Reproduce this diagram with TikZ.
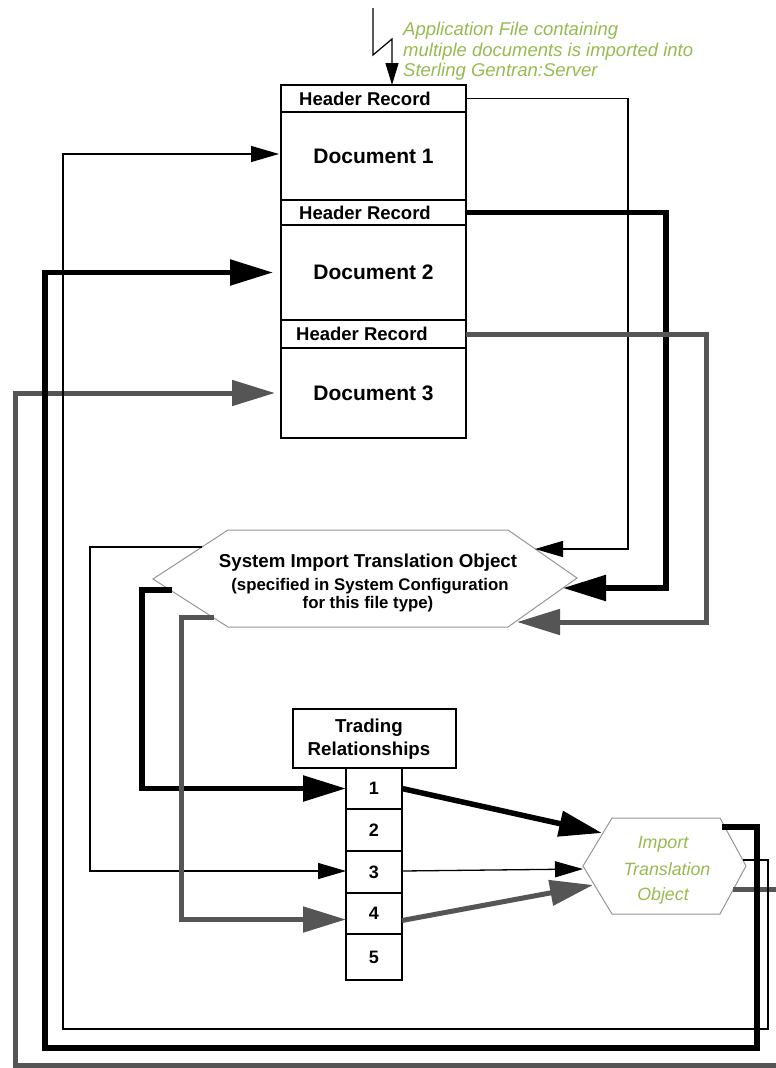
\documentclass[tikz,border=0pt]{standalone}
\usepackage{fontspec}
\setmainfont{Liberation Sans}
\usetikzlibrary{arrows.meta}
\definecolor{gr}{RGB}{85,85,85}
\definecolor{grn}{RGB}{150,187,80}
\definecolor{hexc}{RGB}{150,150,150}
\begin{document}
\begin{tikzpicture}[x=1pt,y=-1pt,
  cell/.style={draw=black, line width=1.2pt, inner sep=0pt, outer sep=0pt, anchor=north west, minimum width=185pt},
  hexshape/.style={draw=hexc, line width=1pt, fill=white},
  hdrtext/.style={font=\fontsize{18.5}{22}\selectfont\bfseries, inner sep=0pt},
  doctext/.style={font=\fontsize{21}{24}\selectfont\bfseries},
  titletext/.style={font=\fontsize{18.7}{22}\selectfont\bfseries, inner sep=0pt, anchor=base},
  subtext/.style={font=\fontsize{16.8}{20}\selectfont\bfseries, inner sep=0pt, anchor=base},
  numtext/.style={font=\fontsize{18}{20}\selectfont\bfseries},
  itotext/.style={font=\fontsize{17.8}{20}\selectfont\itshape, text=grn, inner sep=0pt, anchor=base},
  notetext/.style={font=\fontsize{18.5}{21}\selectfont\itshape, text=grn, inner sep=0pt, anchor=base west},
  thinarrow/.style={line width=1.3pt, -{Triangle[length=28pt,width=16pt]}},
  blackarrow/.style={line width=5.5pt, -{Triangle[length=43pt,width=25pt]}},
  grayarrow/.style={line width=5pt, color=gr, -{Triangle[length=43pt,width=25pt]}},
]
\useasboundingbox (0,0) rectangle (776,1068);

% ---------- document stack ----------
\node[cell, minimum height=27pt] (h1) at (281,85) {};
\node[cell, minimum height=88pt, doctext] (d1) at (281,112) {Document 1};
\node[cell, minimum height=25pt] (h2) at (281,200) {};
\node[cell, minimum height=95pt, doctext] (d2) at (281,225) {Document 2};
\node[cell, minimum height=28pt] (h3) at (281,320) {};
\node[cell, minimum height=90pt, doctext] (d3) at (281,348) {Document 3};
\node[hdrtext] (h1t) at (365,98.5) {Header Record};
\node[hdrtext] (h2t) at (365,212.5) {Header Record};
\node[hdrtext] (h3t) at (362,334) {Header Record};

% ---------- incoming file ----------
\coordinate (src) at (373,8);
\draw[line width=1.2pt, -{Triangle[length=22pt,width=13pt]}]
  (src) -- ++(0,47) -- ++(19,-16) -- ([xshift=18.5pt]h1.north);
\node[notetext] (n1) at (403,35) {Application File containing};
\node[notetext] (n2) at (403,56) {multiple documents is imported into};
\node[notetext] (n3) at (403,76) {Sterling Gentran:Server};

% ---------- system import translation object ----------
\coordinate (sL) at (153,579);
\coordinate (sTL) at (228,530);
\coordinate (sTR) at (508,530);
\coordinate (sR) at (577,578);
\coordinate (sBR) at (508,627);
\coordinate (sBL) at (228,627);
\draw[hexshape] (sL) -- (sTL) -- (sTR) -- (sR) -- (sBR) -- (sBL) -- cycle;
\node[titletext] (s1) at (368,567) {System Import Translation Object};
\node[subtext] (s2) at (370,590) {(specified in System Configuration};
\node[subtext] (s3) at (368,608) {for this file type)};
\coordinate (sIn1) at (535,549);
\coordinate (sIn2) at (563,588);
\coordinate (sIn3) at (517,622);
\coordinate (sOut1) at (202,547);
\coordinate (sOut2) at (172,590);
\coordinate (sOut3) at (214,617);

% ---------- trading relationships ----------
\node[cell, minimum width=163pt, minimum height=59pt] (tr) at (293,709) {};
\node[titletext] (trt1) at (369,732) {Trading};
\node[titletext] (trt2) at (369,755) {Relationships};
\node[cell, minimum width=56pt, minimum height=41pt, numtext] (t1) at (346,768) {1};
\node[cell, minimum width=56pt, minimum height=42pt, numtext] (t2) at (346,809) {2};
\node[cell, minimum width=56pt, minimum height=42pt, numtext] (t3) at (346,851) {3};
\node[cell, minimum width=56pt, minimum height=41pt, numtext] (t4) at (346,893) {4};
\node[cell, minimum width=56pt, minimum height=46pt, numtext] (t5) at (346,934) {5};

% ---------- import translation object ----------
\coordinate (iL) at (583,866);
\coordinate (iTL) at (612,818);
\coordinate (iTR) at (720,818);
\coordinate (iR) at (746,866);
\coordinate (iBR) at (720,914);
\coordinate (iBL) at (612,914);
\draw[hexshape] (iL) -- (iTL) -- (iTR) -- (iR) -- (iBR) -- (iBL) -- cycle;
\node[itotext] (i1) at (663,848) {Import};
\node[itotext] (i2) at (667,875) {Translation};
\node[itotext] (i3) at (663,900) {Object};
\coordinate (iIn1) at (602,833);
\coordinate (iIn2) at (583,869);
\coordinate (iIn3) at (593,885);
\coordinate (iOut1) at (722,827);
\coordinate (iOut2) at (743,860);
\coordinate (iOut3) at (733,889);

% ---------- connectors: headers to system object ----------
\draw[thinarrow] (h1.east) -- ++(162,0) |- (sIn1);
\draw[blackarrow] (h2.east) -- ++(200,0) |- (sIn2);
\draw[grayarrow] (h3.east) -- ++(240,0) |- (sIn3);

% ---------- system object to trading relationships ----------
\draw[thinarrow] (sOut1) -- ++(-112,0) |- ([yshift=1pt]t3.west);
\draw[blackarrow] (sOut2) -- ++(-30,0) |- (t1.west);
\draw[grayarrow] (sOut3) -- ++(-33,0) |- ([yshift=-6pt]t4.west);

% ---------- trading relationships to import object ----------
\draw[blackarrow] (t1.east) -- (iIn1);
\draw[thinarrow] ([yshift=1pt]t3.east) -- (iIn2);
\draw[grayarrow] ([yshift=-7pt]t4.east) -- (iIn3);

% ---------- import object back to documents ----------
\draw[grayarrow] (iOut3) -- ++(47,0) -- ++(0,176) -- ++(-765,0) |- ([xshift=-6pt]d3.west);
\draw[blackarrow] (iOut1) -- ++(35,0) -- ++(0,221) -- ++(-712,0) |- ([xshift=-8pt]d2.west);
\draw[thinarrow] (iOut2) -- ++(25,0) -- ++(0,169) -- ++(-705,0) |- ([xshift=-2pt,yshift=2pt]d1.west);
\end{tikzpicture}
\end{document}
